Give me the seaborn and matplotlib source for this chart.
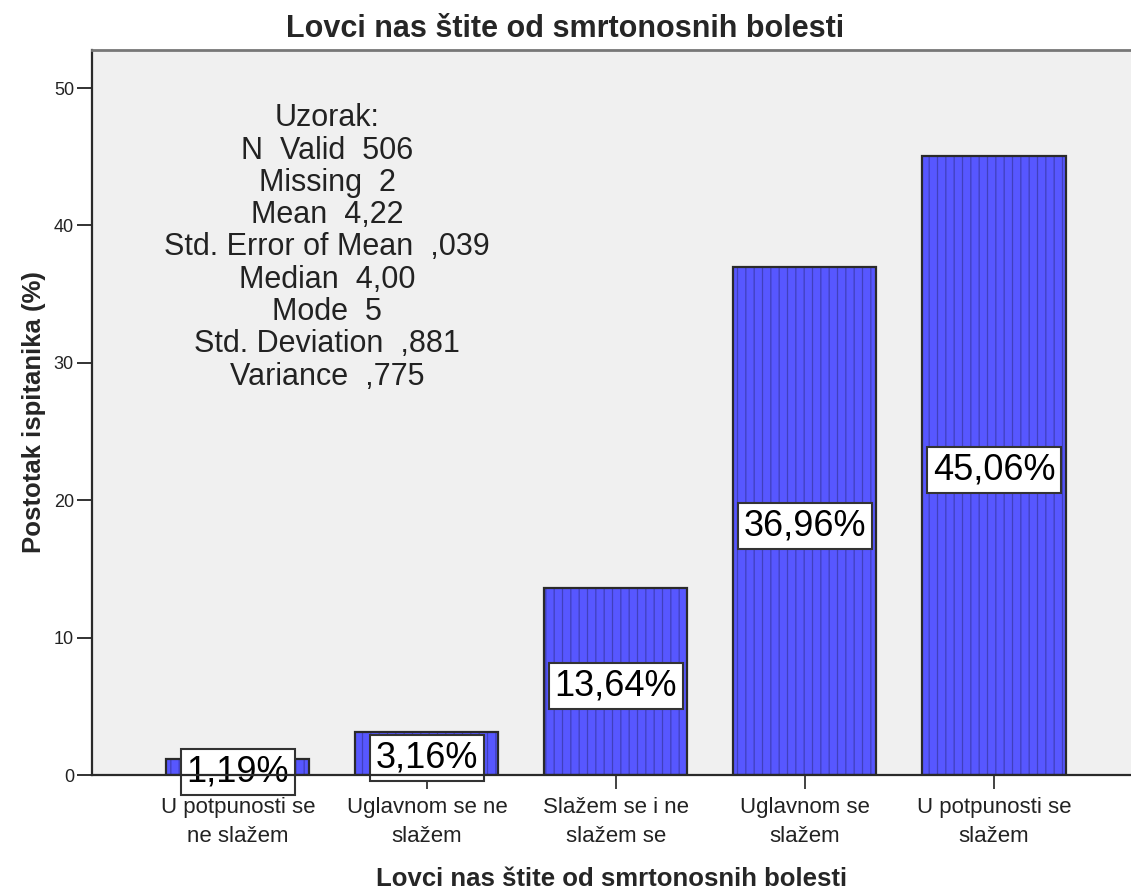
import matplotlib
matplotlib.use("Agg")
import matplotlib.pyplot as plt
import seaborn as sns

# Data
categories = [
    "U potpunosti se\nne slažem",
    "Uglavnom se ne\nslažem",
    "Slažem se i ne\nslažem se",
    "Uglavnom se\nslažem",
    "U potpunosti se\nslažem",
]
percentages = [1.19, 3.16, 13.64, 36.96, 45.06]
y_ticks = [0, 10, 20, 30, 40, 50]
title = "Lovci nas štite od smrtonosnih bolesti"
x_label = "Lovci nas štite od smrtonosnih bolesti"
y_label = "Postotak ispitanika (%)"
stats_lines = [
    "Uzorak:",
    "N  Valid  506",
    "Missing  2",
    "Mean  4,22",
    "Std. Error of Mean  ,039",
    "Median  4,00",
    "Mode  5",
    "Std. Deviation  ,881",
    "Variance  ,775",
]

sns.set_style("ticks")
plt.rcParams["font.family"] = ["Liberation Sans", "DejaVu Sans"]
plt.rcParams["hatch.linewidth"] = 0.9

W, H = 1131, 893
fig = plt.figure(figsize=(W / 100, H / 100), dpi=100)
fig.patch.set_facecolor("white")
ax = fig.add_axes([92 / W, 118 / H, 1039 / W, 725 / H])
ax.set_facecolor("#F0F0F0")

bar_fill = "#5757FF"
dot_color = "#4040BC"
edge_dark = "#2A2A2A"
bar_width = 0.757

# filled bars with vertical dotted texture
sns.barplot(x=categories, y=percentages, color=bar_fill, saturation=1,
            width=bar_width, edgecolor=dot_color, linewidth=0, hatch="||",
            ax=ax, zorder=2)
# dark outlines on top
sns.barplot(x=categories, y=percentages, color=edge_dark, saturation=1,
            width=bar_width, fill=False, linewidth=1.6, ax=ax, zorder=2.2)

ax.set_xlim(-0.772, 4.725)
ax.set_ylim(0, 52.77)
ax.set_xlabel("")
ax.set_ylabel("")

# value labels in white boxes
for i, v in enumerate(percentages):
    txt = f"{v:.2f}%".replace(".", ",")
    ax.text(i, v / 2 - 0.35, txt, ha="center", va="center", fontsize=26,
            color="black", zorder=2.4,
            bbox=dict(boxstyle="square,pad=0.15", fc="white", ec="#333333", lw=1.5))

# axes styling
ax.spines["right"].set_visible(False)
ax.spines["top"].set_color("#777777")
ax.spines["top"].set_linewidth(2)
ax.spines["left"].set_color(edge_dark)
ax.spines["left"].set_linewidth(1.6)
ax.spines["bottom"].set_color(edge_dark)
ax.spines["bottom"].set_linewidth(1.6)

ax.set_yticks(y_ticks)
ax.set_yticklabels([str(t) for t in y_ticks])
ax.tick_params(axis="y", labelsize=13, length=11, width=1.3, pad=2,
               colors="#222222")
ax.set_xticks(range(len(categories)))
ax.set_xticklabels(categories, fontsize=16, linespacing=1.5, color="#222222")
ax.tick_params(axis="x", length=10, width=1.2, pad=6, color="#222222")

# summary statistics block
ax.text(0.2262, 0.7276, "\n".join(stats_lines), transform=ax.transAxes,
        ha="center", va="center", multialignment="center", fontsize=22,
        linespacing=1.10, color="#222222")

fig.text(0.5, 1 - 37 / H, title, ha="center", va="baseline", fontsize=22,
         fontweight="bold")
fig.text(611.5 / W, 1 - 886 / H, x_label, ha="center", va="baseline",
         fontsize=18.5, fontweight="bold")
fig.text(34 / W, 1 - 412 / H, y_label, ha="center", va="center",
         rotation=90, fontsize=18.5, fontweight="bold")

fig.savefig("out.png", dpi=100)
